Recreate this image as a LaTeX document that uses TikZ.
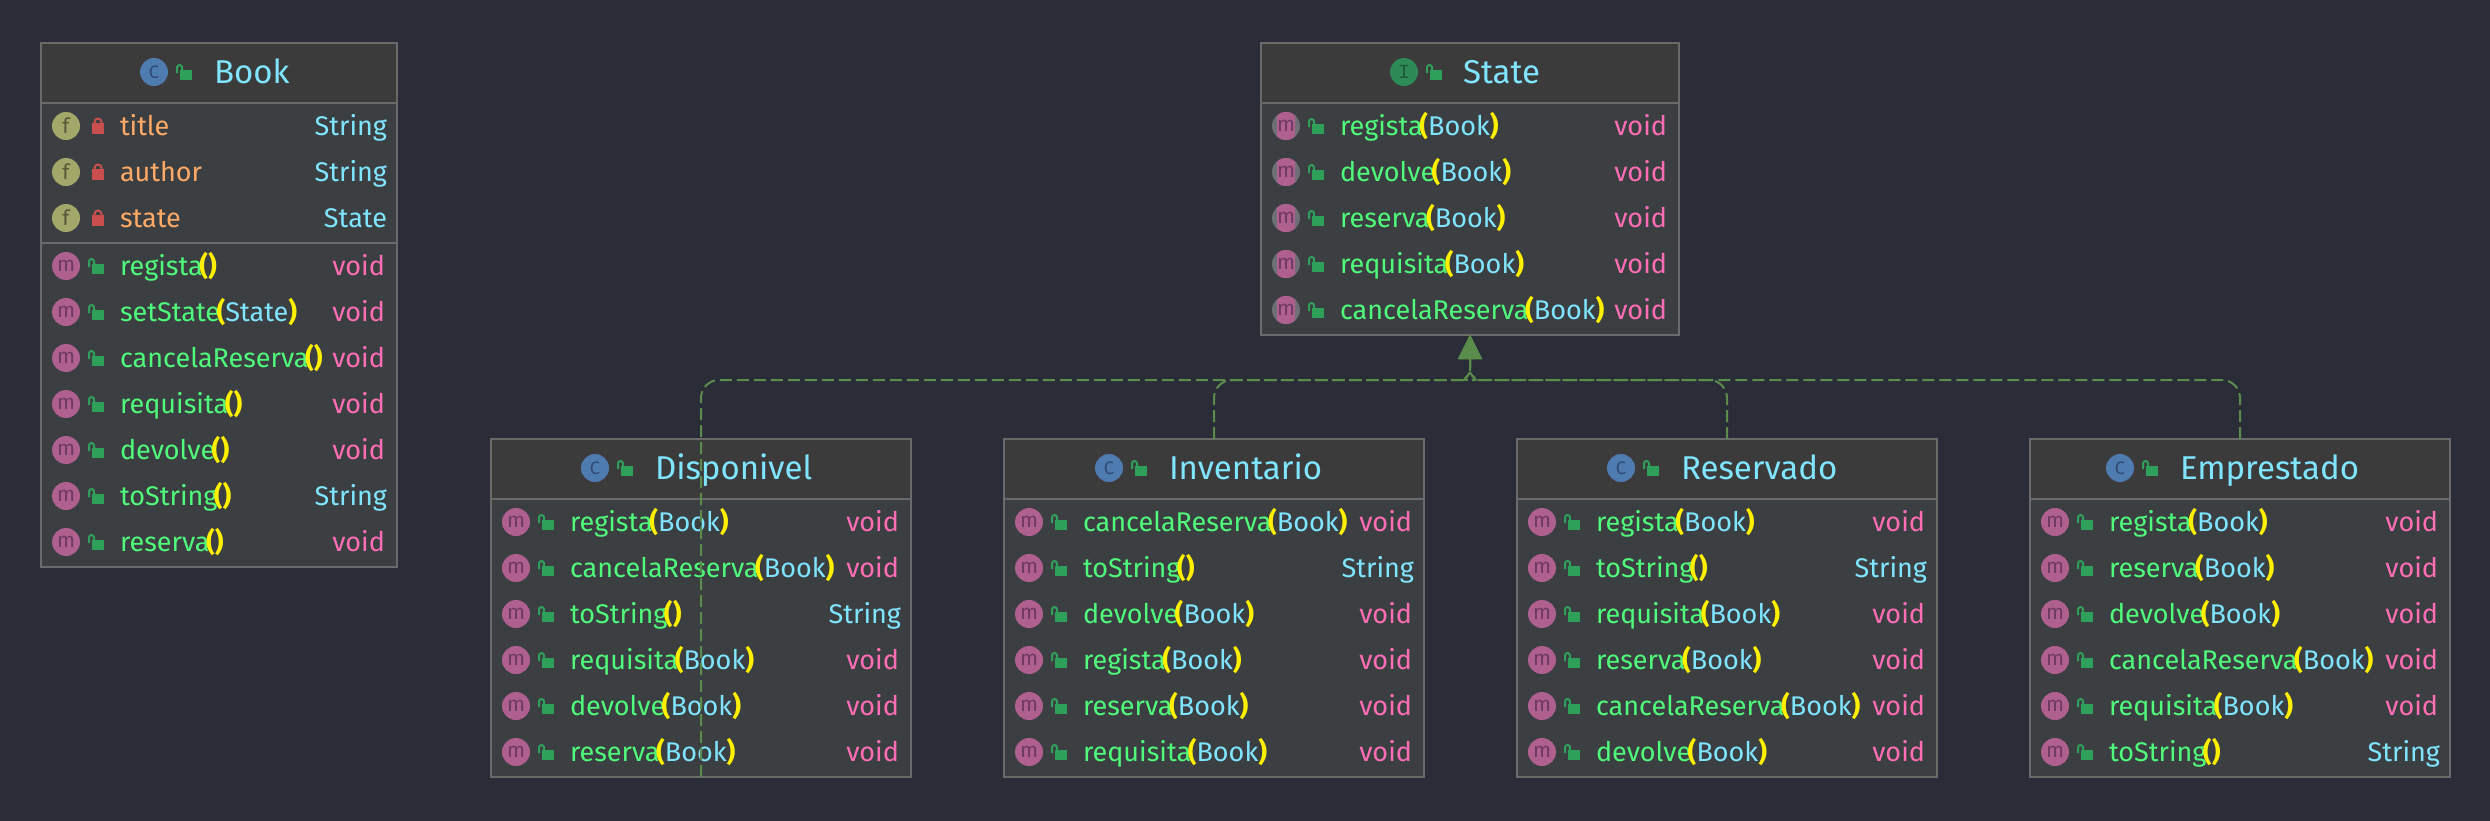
\documentclass[tikz,border=0pt]{standalone}
\usepackage{fontspec}
\setmainfont{Fira Sans}
\newfontfamily\badgemono{Liberation Mono}
\usetikzlibrary{arrows.meta}
\definecolor{bgc}{HTML}{2A2C38}
\definecolor{headc}{HTML}{3C3B3B}
\definecolor{bodyc}{HTML}{3B3F42}
\definecolor{edgec}{HTML}{6A6A6A}
\definecolor{linec}{HTML}{5A8C4C}
\definecolor{titlec}{HTML}{80E6FF}
\definecolor{fieldc}{HTML}{FFAA66}
\definecolor{methc}{HTML}{50FA7B}
\definecolor{parenc}{HTML}{FFF000}
\definecolor{retc}{HTML}{FF6EB4}
\definecolor{cbg}{HTML}{4E7BB0}\definecolor{cfg}{HTML}{2F4A75}
\definecolor{fbg}{HTML}{A3A86A}\definecolor{ffg}{HTML}{55563A}
\definecolor{mbg}{HTML}{B0608F}\definecolor{mfg}{HTML}{6E3A63}
\definecolor{ibg}{HTML}{2E8B57}\definecolor{ifg}{HTML}{1D5A38}
\definecolor{lockg}{HTML}{2FA05A}\definecolor{lockr}{HTML}{C94F4F}
\definecolor{absg}{HTML}{6E7078}
\tikzset{
  x=1pt,y=-1pt,
  umlbox/.style={draw=edgec,fill=bodyc,line width=2pt,inner sep=0pt,outer sep=0pt},
  rowtext/.style={inner sep=0pt,outer sep=0pt,anchor=base west,font=\fontsize{27}{30}\selectfont},
  rettext/.style={inner sep=0pt,outer sep=0pt,anchor=base east,font=\fontsize{27}{30}\selectfont},
  titletext/.style={inner sep=0pt,outer sep=0pt,anchor=base west,text=titlec,font=\fontsize{33}{36}\selectfont},
  badgeletter/.style={inner sep=0pt,outer sep=0pt,anchor=center,font=\fontsize{21}{24}\selectfont},
  impl/.style={draw=linec,line width=2pt,dash pattern=on 12pt off 5pt,rounded corners=18pt,
    -{Triangle[length=24pt,width=24pt,fill=linec,line width=0pt]}},
  sepline/.style={draw=edgec,line width=2pt},
}
\newcount\nn
\newcommand{\bump}{\global\advance\nn by 1\relax}
\newcommand{\classbox}[6]{% name x1 y1 x2 y2 headerbottom
  \pgfmathsetmacro{\bw}{#4-#2}\pgfmathsetmacro{\bh}{#5-#3}
  \gdef\bL{#2}\gdef\bR{#4}
  \node[umlbox,minimum width=\bw pt,minimum height=\bh pt] (#1) at ({(#2+#4)/2},{(#3+#5)/2}) {};
  \fill[headc] ({#2+1},{#3+1}) rectangle ({#4-1},#6);
  \draw[sepline] (#2,#6) -- (#4,#6);
}
\newcommand{\badge}[5]{% x y bg fg letter
  \fill[#3] (#1,#2) circle[radius=14];
  \bump\node[badgeletter,text=#4] (n\the\nn) at (#1,#2) {#5};
}
\newcommand{\absbadge}[2]{%
  \fill[absg] (#1,#2) circle[radius=14];
  \begin{scope}
    \clip (#1,#2) circle[radius=14];
    \fill[mbg,rounded corners=3pt] ({#1-9},{#2-14}) rectangle ({#1+9},{#2+14});
  \end{scope}
  \bump\node[badgeletter,text=mfg] (n\the\nn) at (#1,#2) {m};
}
\newcommand{\openlock}[2]{% body left x, row y
  \fill[lockg] (#1,{#2-2}) rectangle ({#1+12},{#2+8});
  \draw[lockg,line width=2pt] ({#1-3},{#2+1}) -- ({#1-3},{#2-4.5}) arc[start angle=180,end angle=360,radius=2.5] -- ({#1+2},{#2-2});
}
\newcommand{\closedlock}[2]{%
  \fill[lockr] (#1,{#2-3}) rectangle ({#1+12},{#2+8});
  \draw[lockr,line width=2pt] ({#1+2.5},{#2-3}) -- ({#1+2.5},{#2-4}) arc[start angle=180,end angle=360,radius=3.5] -- ({#1+9.5},{#2-3});
}
\newcommand{\head}[6]{% y badge-x kind letter titlex title
  \badge{#2}{#1}{#3bg}{#3fg}{#4}
  \openlock{\the\numexpr#2+26\relax}{#1}
  \bump\node[titletext] (n\the\nn) at (#5,{#1+11}) {#6};
}
\newcommand{\frow}[3]{% y name type
  \badge{\bL+25}{#1}{fbg}{ffg}{f}
  \closedlock{\the\numexpr\bL+51\relax}{#1}
  \bump\node[rowtext,text=fieldc] (n\the\nn) at ({\bL+79},{#1+9}) {#2};
  \bump\node[rettext,text=titlec] (n\the\nn) at ({\bR-10},{#1+9}) {#3};
}
\newcommand{\rowlabel}[3]{%
  \bump\node[rowtext,text=methc] (n\the\nn) at ({\bL+79},{#1+9}) {#2\kern-3.5pt\textcolor{parenc}{\textbf{(}}\textcolor{titlec}{#3}\textcolor{parenc}{\textbf{)}}};
}
\newcommand{\mrow}[4]{% y name args ret
  \badge{\bL+25}{#1}{mbg}{mfg}{m}
  \openlock{\the\numexpr\bL+51\relax}{#1}
  \rowlabel{#1}{#2}{#3}
  \bump\node[rettext,text=retc] (n\the\nn) at ({\bR-12},{#1+9}) {#4};
}
\newcommand{\srow}[2]{% y name, toString() String
  \badge{\bL+25}{#1}{mbg}{mfg}{m}
  \openlock{\the\numexpr\bL+51\relax}{#1}
  \rowlabel{#1}{#2}{}
  \bump\node[rettext,text=titlec] (n\the\nn) at ({\bR-10},{#1+9}) {String};
}
\newcommand{\arow}[2]{% abstract row: y name
  \absbadge{\bL+25}{#1}
  \openlock{\the\numexpr\bL+51\relax}{#1}
  \rowlabel{#1}{#2}{Book}
  \bump\node[rettext,text=retc] (n\the\nn) at ({\bR-12},{#1+9}) {void};
}
\newcommand{\letC}{{\fontsize{18}{20}\selectfont C}}
\newcommand{\letI}{{\badgemono\fontsize{20}{22}\selectfont I}}
\begin{document}
\begin{tikzpicture}
\useasboundingbox (0,0) rectangle (2490,820);
\fill[bgc] (-5,-5) rectangle (2495,825);

% Book
\classbox{book}{41}{43}{397}{567}{103}
\head{72}{154}{c}{\letC}{214}{Book}
\frow{126}{title}{String}
\frow{172}{author}{String}
\frow{218}{state}{State}
\draw[sepline] (41,243) -- (397,243);
\mrow{266}{regista}{}{void}
\mrow{312}{setState}{State}{void}
\mrow{358}{cancelaReserva}{}{void}
\mrow{404}{requisita}{}{void}
\mrow{450}{devolve}{}{void}
\srow{496}{toString}
\mrow{542}{reserva}{}{void}

% State
\classbox{state}{1261}{43}{1679}{335}{103}
\head{72}{1404}{i}{\letI}{1463}{State}
\arow{126}{regista}
\arow{172}{devolve}
\arow{218}{reserva}
\arow{264}{requisita}
\arow{310}{cancelaReserva}

% Disponivel
\classbox{disp}{491}{439}{911}{777}{499}
\head{468}{595}{c}{\letC}{655}{Disponivel}
\mrow{522}{regista}{Book}{void}
\mrow{568}{cancelaReserva}{Book}{void}
\srow{614}{toString}
\mrow{660}{requisita}{Book}{void}
\mrow{706}{devolve}{Book}{void}
\mrow{752}{reserva}{Book}{void}

% Inventario
\classbox{inv}{1004}{439}{1424}{777}{499}
\head{468}{1109}{c}{\letC}{1169}{Inventario}
\mrow{522}{cancelaReserva}{Book}{void}
\srow{568}{toString}
\mrow{614}{devolve}{Book}{void}
\mrow{660}{regista}{Book}{void}
\mrow{706}{reserva}{Book}{void}
\mrow{752}{requisita}{Book}{void}

% Reservado
\classbox{res}{1517}{439}{1937}{777}{499}
\head{468}{1621}{c}{\letC}{1681}{Reservado}
\mrow{522}{regista}{Book}{void}
\srow{568}{toString}
\mrow{614}{requisita}{Book}{void}
\mrow{660}{reserva}{Book}{void}
\mrow{706}{cancelaReserva}{Book}{void}
\mrow{752}{devolve}{Book}{void}

% Emprestado
\classbox{emp}{2030}{439}{2450}{777}{499}
\head{468}{2120}{c}{\letC}{2180}{Emprestado}
\mrow{522}{regista}{Book}{void}
\mrow{568}{reserva}{Book}{void}
\mrow{614}{devolve}{Book}{void}
\mrow{660}{cancelaReserva}{Book}{void}
\mrow{706}{requisita}{Book}{void}
\srow{752}{toString}

% Connectors
\coordinate (busl) at (1450,380);
\coordinate (busr) at (1490,380);
\coordinate (stem) at (1470,372);
\draw[impl] (disp.south) |- (busl) [sharp corners] .. controls (1460,380) and (1468,378) .. (stem) -- (state.south);
\draw[impl] (inv.north) |- (busl) [sharp corners] .. controls (1460,380) and (1468,378) .. (stem) -- (state.south);
\draw[impl] (res.north) |- (busr) [sharp corners] .. controls (1480,380) and (1472,378) .. (stem) -- (state.south);
\draw[impl] (emp.north) |- (busr) [sharp corners] .. controls (1480,380) and (1472,378) .. (stem) -- (state.south);
\end{tikzpicture}
\end{document}
